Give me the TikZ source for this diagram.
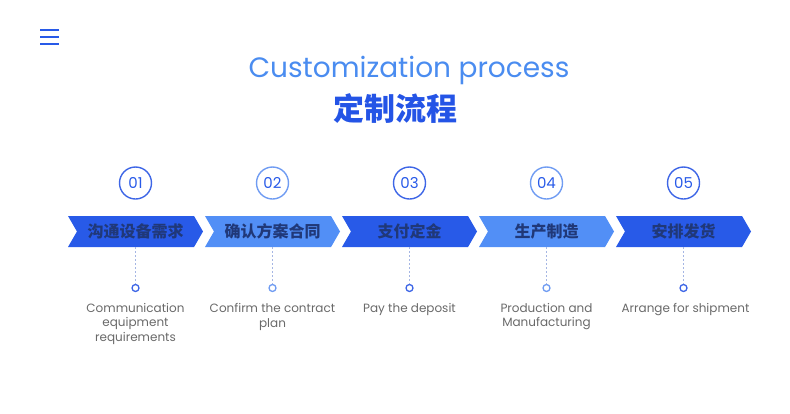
\documentclass[tikz,border=0pt]{standalone}
\usepackage{fontspec}
\setmainfont{Poppins}
\newfontfamily\cjk{Noto Sans CJK SC}
\usetikzlibrary{shapes.symbols,positioning}

\definecolor{deepblue}{RGB}{40,90,232}
\definecolor{skyblue}{RGB}{82,143,246}
\definecolor{navytext}{RGB}{32,56,120}
\definecolor{titleblue}{RGB}{74,140,240}
\definecolor{cnblue}{RGB}{36,84,230}
\definecolor{ringdark}{RGB}{62,102,230}
\definecolor{ringlight}{RGB}{112,156,242}
\definecolor{labelgray}{RGB}{105,105,105}
\definecolor{dashblue}{RGB}{165,182,228}

\begin{document}
\begin{tikzpicture}[x=1pt,y=-1pt,node distance=137pt,
    step node/.style={signal,signal to=east,signal from=west,signal pointer angle=120,
      minimum width=135pt,minimum height=31pt,inner sep=0pt,
      font=\cjk\bfseries\fontsize{16}{16}\selectfont,text=navytext},
    num node/.style={circle,draw,line width=1.4pt,minimum size=32pt,inner sep=0pt,
      font=\fontsize{15}{15}\selectfont,text=deepblue},
    dot node/.style={circle,draw,line width=1.3pt,minimum size=7pt,inner sep=0pt},
    label node/.style={align=center,inner sep=1pt,text=labelgray,
      font=\fontsize{12}{14.5}\selectfont},
    link line/.style={dashed,dash pattern=on 2pt off 2pt,thin,draw=dashblue},
    menu line/.style={line width=2.4pt,draw=deepblue}]

  \useasboundingbox (0,0) rectangle (790,413);

  % menu icon
  \draw[menu line] (40,30) -- (59,30);
  \draw[menu line] (40,37) -- (59,37);
  \draw[menu line] (40,44) -- (59,44);

  % titles
  \node[font=\fontsize{28}{28}\selectfont,text=titleblue] (title) at (409,70) {Customization process};
  \node[font=\cjk\bfseries\fontsize{31}{31}\selectfont,text=cnblue] (title cn) at (395,109) {定制流程};

  % steps
  \node[step node,fill=deepblue] (s1) at (135.5,231.5) {沟通设备需求};
  \node[step node,fill=skyblue] (s2) [right of=s1] {确认方案合同};
  \node[step node,fill=deepblue] (s3) [right of=s2] {支付定金};
  \node[step node,fill=skyblue] (s4) [right of=s3] {生产制造};
  \node[step node,fill=deepblue] (s5) [right of=s4] {安排发货};

  \node[num node,draw=ringdark] (n1) [on grid,above=48.5pt of s1] {01};
  \node[num node,draw=ringlight] (n2) [on grid,above=48.5pt of s2] {02};
  \node[num node,draw=ringdark] (n3) [on grid,above=48.5pt of s3] {03};
  \node[num node,draw=ringlight] (n4) [on grid,above=48.5pt of s4] {04};
  \node[num node,draw=ringdark] (n5) [on grid,above=48.5pt of s5] {05};

  \node[dot node,draw=ringdark] (d1) [on grid,below=56.5pt of s1] {};
  \node[dot node,draw=ringlight] (d2) [on grid,below=56.5pt of s2] {};
  \node[dot node,draw=ringdark] (d3) [on grid,below=56.5pt of s3] {};
  \node[dot node,draw=ringlight] (d4) [on grid,below=56.5pt of s4] {};
  \node[dot node,draw=ringdark] (d5) [on grid,below=56.5pt of s5] {};

  \path[link line]
    (s1.south) edge (d1.north)
    (s2.south) edge (d2.north)
    (s3.south) edge (d3.north)
    (s4.south) edge (d4.north)
    (s5.south) edge (d5.north);

  \node[label node,below=10pt of d1] (t1) {Communication\\equipment\\requirements};
  \node[label node,below=10pt of d2] (t2) {Confirm the contract\\plan};
  \node[label node,below=10pt of d3] (t3) {Pay the deposit};
  \node[label node,below=10pt of d4] (t4) {Production and\\Manufacturing};
  \node[label node,below=10pt of d5,xshift=2pt] (t5) {Arrange for shipment};
\end{tikzpicture}
\end{document}
